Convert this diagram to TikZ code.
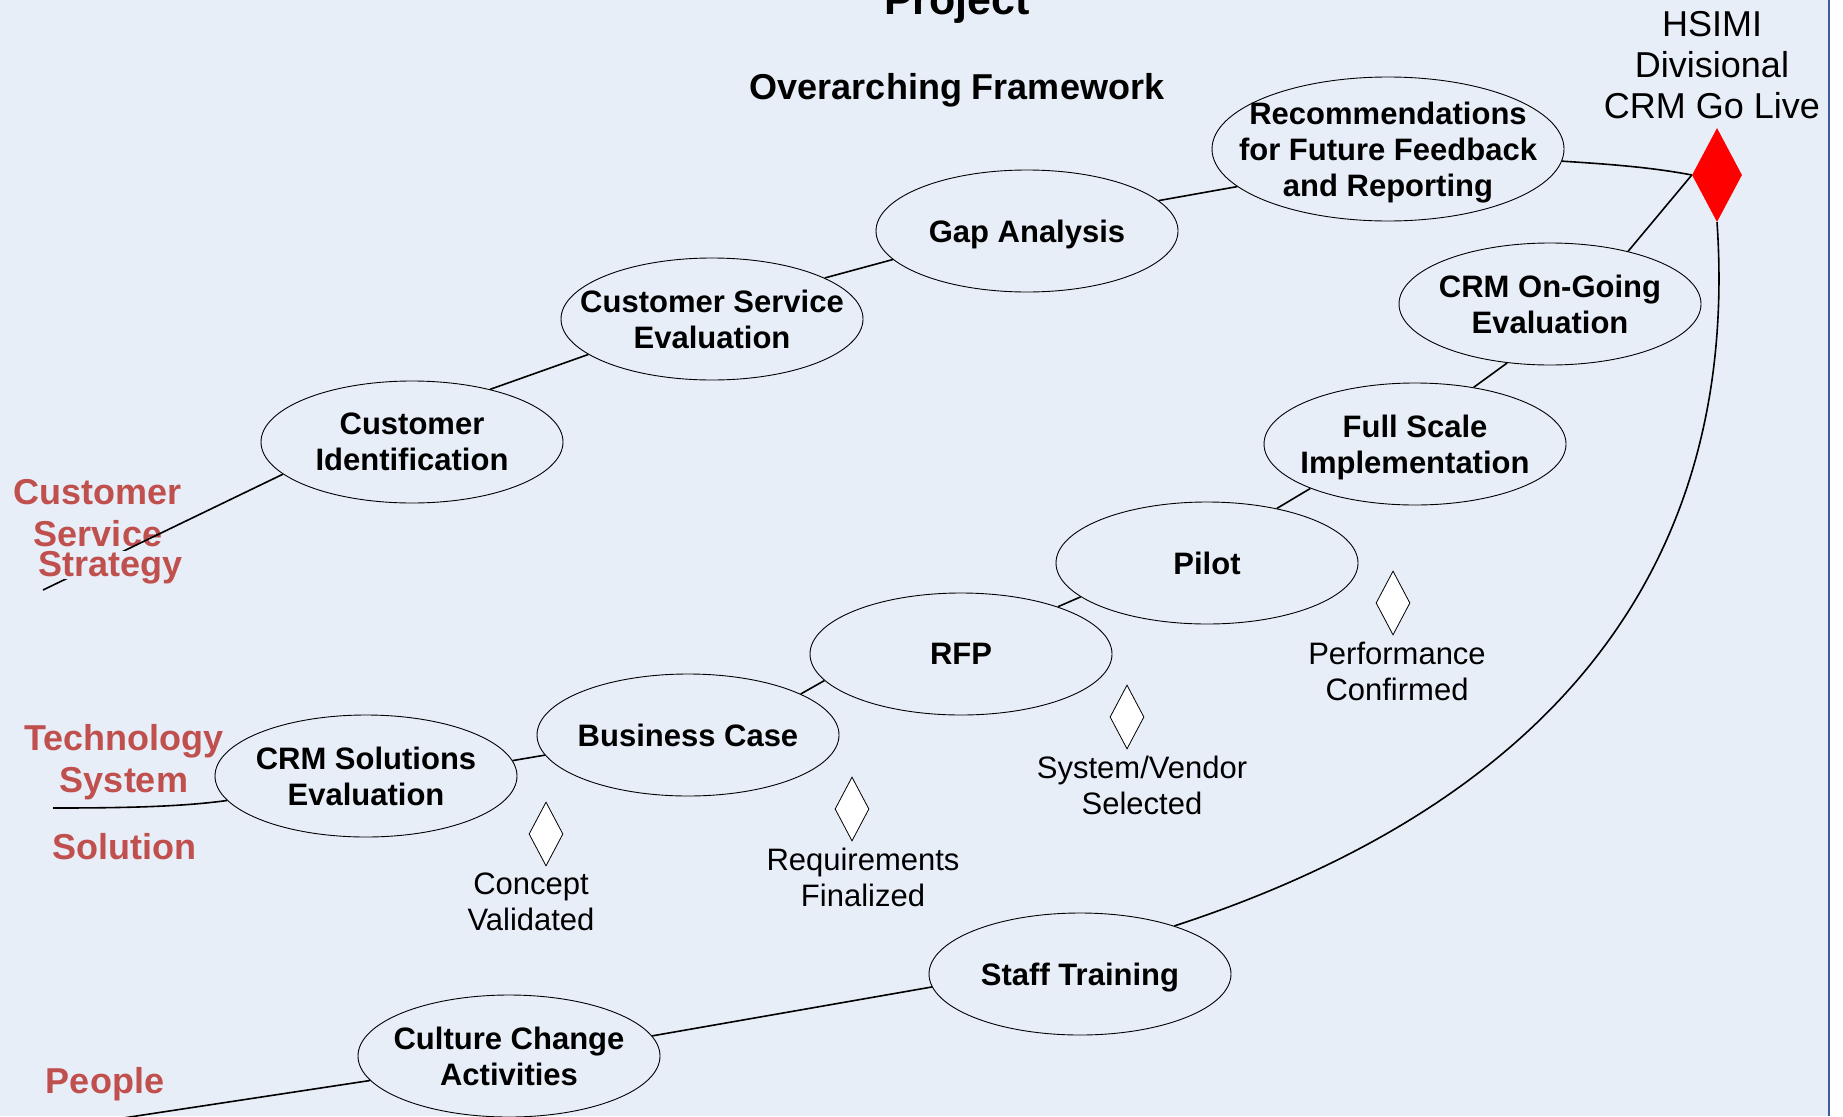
\documentclass[tikz,border=0pt]{standalone}
\usepackage{fontspec}
\setmainfont{Liberation Sans}
\usepackage{xcolor}
\usetikzlibrary{positioning, shapes.geometric}
\definecolor{paleblue}{RGB}{232,238,248}
\definecolor{trackred}{RGB}{192,80,77}
\definecolor{edgeblue}{RGB}{58,94,160}
\tikzset{
    phase/.style={ellipse, draw, line width=0.9pt, minimum width=302pt, minimum height=122pt,
        inner xsep=-80pt, inner ysep=-40pt, align=center, text depth=0pt,
        font=\fontsize{31}{36}\selectfont\bfseries}, % one stage of the project
    milestone/.style={diamond, draw, fill=white, line width=0.8pt,
        minimum width=34pt, minimum height=64pt, inner sep=0pt}, % small white diamonds
    golive/.style={diamond, fill=red, minimum width=50pt, minimum height=94pt, inner sep=0pt}, % the end point
    mtext/.style={align=center, inner sep=0pt, font=\fontsize{31}{36}\selectfont}, % text under a milestone
    track/.style={align=center, inner sep=0pt, text=trackred,
        font=\fontsize{36}{42}\selectfont\bfseries}, % red names of the tracks
    node distance=6pt, % milestone to its text
}
\tikzstyle{link} = [line width=1.6pt]

\begin{document}
\begin{tikzpicture}[x=1pt, y=-1pt]
    \useasboundingbox (0,0) rectangle (1843,1116);
    \clip (0,0) rectangle (1843,1116);
    \fill[paleblue] (0,0) rectangle (1829,1116);
    \fill[white] (1829,0) rectangle (1843,1116);
    \draw[edgeblue, line width=1.5pt] (1829,0) -- (1829,1116);

    \node[anchor=base, font=\fontsize{43}{50}\selectfont\bfseries] (project) at (957,15) {Project};
    \node[anchor=base, font=\fontsize{36}{42}\selectfont\bfseries] (frame) at (957,99) {Overarching Framework};

    % track names
    \node[track] (cs) at (98,513) {Customer\\Service};
    \node[track] (tech) at (124,762) {Technology\\System};
    \node[track] (sol) at (124,847) {Solution};
    \node[track] (people) at (105,1084) {People};

    % stages
    \node[phase] (ci) at (412,442) {Customer\\Identification};
    \node[phase] (cse) at (712,319) {Customer Service\\Evaluation};
    \node[phase] (gap) at (1027,231) {Gap Analysis};
    \node[phase, minimum width=352pt, minimum height=144pt] (rec) at (1388,149) {Recommendations\\for Future Feedback\\and Reporting};
    \node[phase] (ongo) at (1550,304) {CRM On-Going\\Evaluation};
    \node[phase] (fsi) at (1415,444) {Full Scale\\Implementation};
    \node[phase] (pilot) at (1207,563) {Pilot};
    \node[phase] (rfp) at (961,654) {RFP};
    \node[phase] (bc) at (688,735) {Business Case};
    \node[phase] (crmse) at (366,776) {CRM Solutions\\Evaluation};
    \node[phase] (staff) at (1080,974) {Staff Training};
    \node[phase] (culture) at (509,1056) {Culture Change\\Activities};

    % go live
    \node[golive] (live) at (1717,175) {};
    \node[align=center, inner sep=0pt, font=\fontsize{36}{41}\selectfont] (livetext) at (1712,65) {HSIMI\\Divisional\\CRM Go Live};

    % milestones
    \node[milestone] (m1) at (546,834) {};
    \node[mtext, below=of m1, xshift=-15pt] (m1text) {Concept\\Validated};
    \node[milestone] (m2) at (852,809) {};
    \node[mtext, below=of m2, xshift=11pt] (m2text) {Requirements\\Finalized};
    \node[milestone] (m3) at (1127,717) {};
    \node[mtext, below=of m3, xshift=15pt] (m3text) {System/Vendor\\Selected};
    \node[milestone] (m4) at (1393,603) {};
    \node[mtext, below=of m4, xshift=4pt] (m4text) {Performance\\Confirmed};

    \coordinate (cssend) at (43,590);
    \coordinate (techend) at (53,808);
    \coordinate (peopleend) at (110,1120);

    \path[link]
        (ci.194) edge (cssend)
        (ci.34) edge (cse.196)
        (cse.20) edge (gap.192)
        (gap.13) edge (rec.194)
        (ongo.34) edge (live.west)
        (ongo.234) edge (fsi.44)
        (fsi.203) edge (pilot.38)
        (pilot.195) edge (rfp.26)
        (rfp.191) edge (bc.20)
        (bc.188) edge (crmse.6)
        (culture.190) edge (peopleend)
        (culture.8) edge (staff.185);
    \draw[link] (rec.356) .. controls (1606,164) and (1650,167) .. (live.west);
    \draw[link] (techend) .. controls (120,808) and (180,807) .. (crmse.190);
    \draw[link] (staff.27) .. controls (1560,800) and (1740,560) .. (live.south);

    \node[track, fill=paleblue, text depth=3pt] (strat) at (111,565) {Strategy};
\end{tikzpicture}
\end{document}
